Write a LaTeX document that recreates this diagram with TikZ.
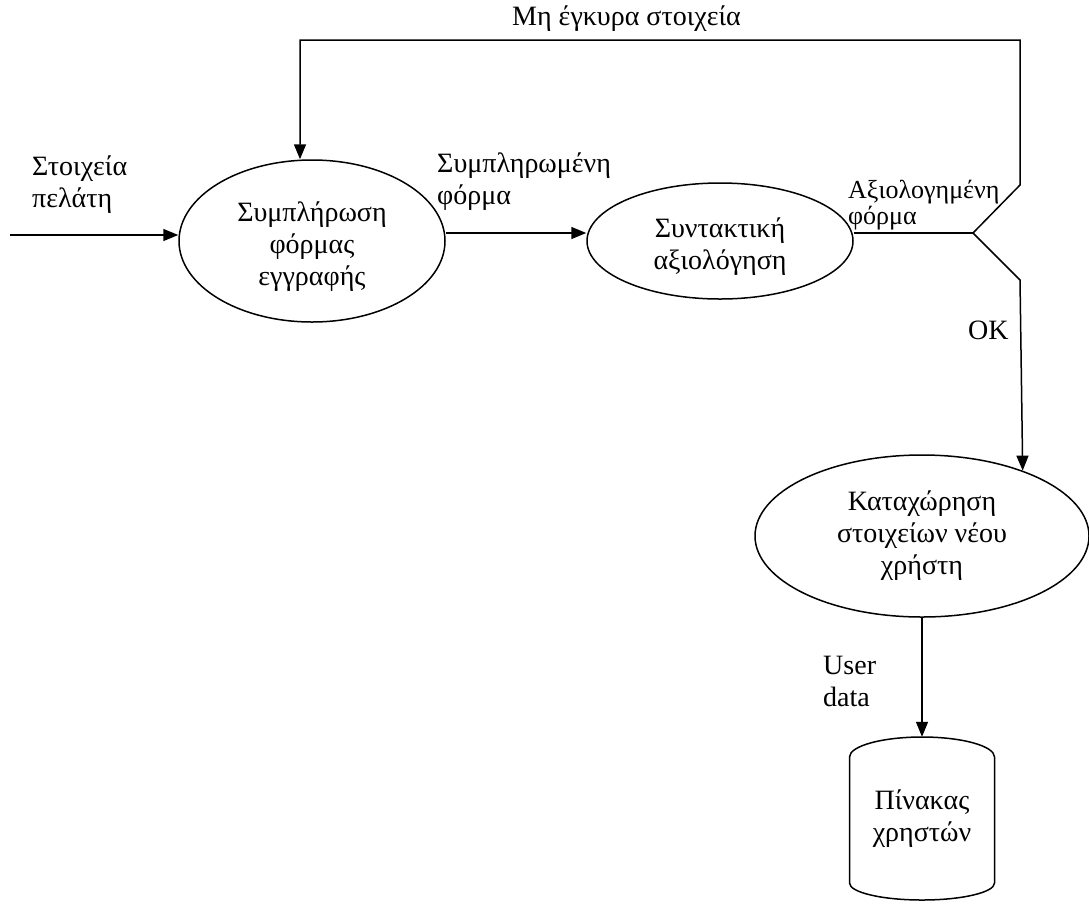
\documentclass[tikz,border=0pt]{standalone}
\usepackage{fontspec}
\setmainfont{Liberation Serif}
\usetikzlibrary{shapes.geometric,arrows.meta}

\begin{document}
\begin{tikzpicture}[x=1pt,y=-1pt,
  every node/.style={inner sep=0pt, font=\fontsize{28}{32}\selectfont},
  process/.style={ellipse, draw, line width=1.5pt, align=center},
  flow/.style={line width=1.5pt, -{Triangle[length=15pt,width=12pt]}},
  wire/.style={line width=1.5pt},
  lbl/.style={align=left},
  small/.style={font=\fontsize{26}{26}\selectfont},
]
\useasboundingbox (0,0) rectangle (1089,903);

% processes
\node[process, minimum width=266pt, minimum height=162pt,
      text height=94pt, text depth=6pt] (fill) at (312,241)
  {Συμπλήρωση\\φόρμας\\εγγραφής};
\node[process, minimum width=266pt, minimum height=116pt,
      text height=62pt, text depth=6pt] (check) at (720,241)
  {Συντακτική\\αξιολόγηση};
\node[process, minimum width=334pt, minimum height=162pt] (reg) at (922,536)
  {Καταχώρηση\\στοιχείων νέου\\χρήστη};

% data store
\node[minimum width=145pt, minimum height=163pt, align=center] (db) at (922,818.5)
  {Πίνακας\\χρηστών};
\draw[wire] (849.5,757) .. controls (849.5,746) and (882,737) .. (922,737)
  .. controls (962,737) and (994.5,746) .. (994.5,757)
  -- (994.5,883) .. controls (994.5,892.4) and (962,900) .. (922,900)
  .. controls (882,900) and (849.5,892.4) .. (849.5,883) -- cycle;

% routing points
\coordinate (src) at (10,235);
\coordinate (jn) at (973,233);
\coordinate (ju) at (1020,185);
\coordinate (jd) at (1020,280);
\coordinate (tr) at (1020,40);
\coordinate (tl) at (300,40);

% flows
\draw[flow] (src) -- (src -| fill.west);
\draw[flow] ([yshift=8pt]fill.east) -- ([yshift=8pt]fill.east -| check.west);
\draw[wire] ([yshift=8pt]check.east) -- (jn);
\draw[flow] (jn) -- (ju) -- (tr) -- (tl) -- ([xshift=-12pt]fill.north);
\draw[flow] (jn) -- (jd) -- (reg.33.3);
\draw[flow] (reg.south) -- (db.north);

% flow labels
\node[anchor=base west] (lbad) at (512,25) {Μη έγκυρα στοιχεία};
\node[lbl, anchor=west] (lin) at (32,184.5) {Στοιχεία\\πελάτη};
\node[lbl, anchor=west] (lfilled) at (437,181.5) {Συμπληρωμένη\\φόρμα};
\node[lbl, small, anchor=west] (lchecked) at (848,205.5) {Αξιολογημένη\\φόρμα};
\node[anchor=base west] (lok) at (968,339) {OK};
\node[lbl, anchor=west] (ldata) at (823,681) {User\\data};
\end{tikzpicture}
\end{document}
